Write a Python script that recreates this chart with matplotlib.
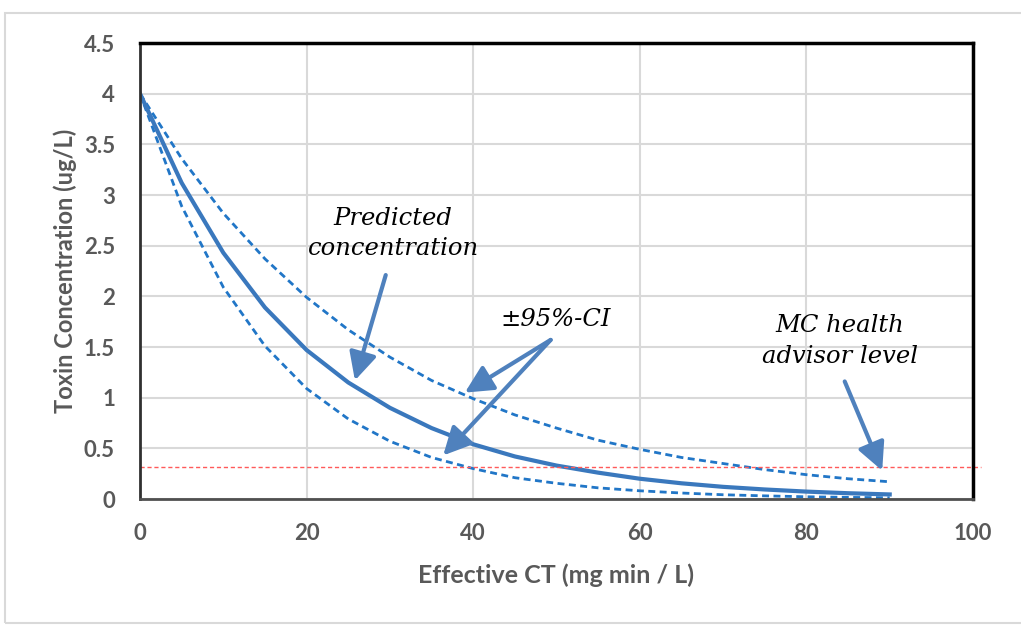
import matplotlib.pyplot as plt
import matplotlib.patches as patches

# data
ct = [0, 5, 10, 15, 20, 25, 30, 35, 40, 45, 50, 55, 60, 65, 70, 75, 80, 85, 90]
predicted = [4.0, 3.12, 2.43, 1.89, 1.47, 1.15, 0.90, 0.70, 0.54, 0.42, 0.33, 0.26, 0.20,
             0.155, 0.12, 0.094, 0.073, 0.057, 0.045]
upper_ci = [4.0, 3.36, 2.82, 2.37, 1.99, 1.67, 1.40, 1.17, 0.99, 0.83, 0.70, 0.58, 0.49,
            0.41, 0.35, 0.29, 0.24, 0.20, 0.17]
lower_ci = [4.0, 2.89, 2.09, 1.51, 1.09, 0.79, 0.57, 0.41, 0.30, 0.21, 0.155, 0.11, 0.081,
            0.059, 0.042, 0.031, 0.022, 0.016, 0.012]
health_level = 0.32

x_ticks = [0, 20, 40, 60, 80, 100]
y_ticks = [0, 0.5, 1, 1.5, 2, 2.5, 3, 3.5, 4, 4.5]
y_tick_labels = ["0", "0.5", "1", "1.5", "2", "2.5", "3", "3.5", "4", "4.5"]

label_gray = "#595959"
line_blue = "#3a78bd"
dash_blue = "#2176c7"
arrow_blue = "#4f81bd"

fig = plt.figure(figsize=(10.21, 6.25), dpi=100)

# light frame around the whole chart
fig.patches.append(patches.Rectangle((5 / 1021, 2 / 625), 1.0, 610 / 625, transform=fig.transFigure,
                                     fill=False, edgecolor="#d9d9d9", linewidth=1.5))

ax = fig.add_axes([140 / 1021, 126 / 625, 833 / 1021, 456 / 625])
ax.set_xlim(0, 100)
ax.set_ylim(0, 4.5)

ax.grid(True, color="#d9d9d9", linewidth=1.5)
ax.set_axisbelow(True)

ax.plot(ct, upper_ci, color=dash_blue, linewidth=2, dashes=(2.5, 1.6))
ax.plot(ct, lower_ci, color=dash_blue, linewidth=2, dashes=(2.5, 1.6))
ax.plot(ct, predicted, color=line_blue, linewidth=3)
ax.plot([0, 101], [health_level, health_level], color="#ff5a5a", linewidth=1,
        dashes=(3, 2), clip_on=False)

for side in ["top", "right"]:
    ax.spines[side].set_color("black")
    ax.spines[side].set_linewidth(2.5)
ax.spines["left"].set_color("#303030")
ax.spines["left"].set_linewidth(2)
ax.spines["bottom"].set_color("#505050")
ax.spines["bottom"].set_linewidth(2)

ax.set_xticks(x_ticks)
ax.set_yticks(y_ticks)
ax.set_yticklabels(y_tick_labels)
ax.tick_params(length=0, labelsize=16, labelcolor=label_gray)
ax.tick_params(axis="x", pad=17)
ax.tick_params(axis="y", pad=18)
for lab in ax.get_xticklabels() + ax.get_yticklabels():
    lab.set_fontfamily("Lato")
    lab.set_fontweight("bold")

ax.set_xlabel("Effective CT (mg min / L)", fontsize=18, fontweight="bold", color=label_gray,
              fontfamily="Lato", labelpad=14)
ax.set_ylabel("Toxin Concentration (ug/L)", fontsize=17, fontweight="bold", color=label_gray,
              fontfamily="Lato", labelpad=5)

# annotations
note = dict(fontsize=17.5, fontstyle="italic", fontfamily="DejaVu Serif", ha="center", va="center",
            linespacing=1.4)
arrow = dict(arrowstyle="-|>,head_length=0.6,head_width=0.3", color=arrow_blue, linewidth=3,
             mutation_scale=28, shrinkA=0, shrinkB=0)

ax.text(30.4, 2.62, "Predicted\nconcentration", **note)
ax.annotate("", xy=(25.8, 1.17), xytext=(29.5, 2.21), arrowprops=arrow)

ax.text(49.9, 1.77, "±95%-CI", **note)
ax.annotate("", xy=(39.0, 1.05), xytext=(49.3, 1.57), arrowprops=arrow)
ax.annotate("", xy=(36.4, 0.43), xytext=(49.3, 1.57), arrowprops=arrow)

ax.text(84.0, 1.56, "MC health\nadvisor level", **note)
ax.annotate("", xy=(89.1, 0.28), xytext=(84.6, 1.16), arrowprops=arrow)

fig.savefig("out.png", dpi=100)
